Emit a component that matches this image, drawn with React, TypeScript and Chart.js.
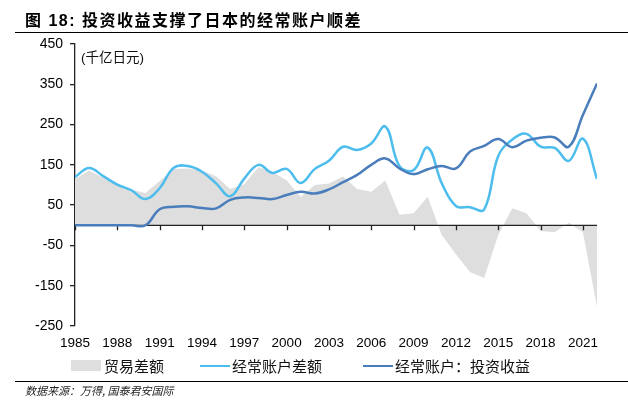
import React, { useEffect, useRef } from "react";
import { Chart, registerables } from "chart.js";

Chart.register(...registerables);

const years = [
  1985, 1986, 1987, 1988, 1989, 1990, 1991, 1992, 1993, 1994,
  1995, 1996, 1997, 1998, 1999, 2000, 2001, 2002, 2003, 2004,
  2005, 2006, 2007, 2008, 2009, 2010, 2011, 2012, 2013, 2014,
  2015, 2016, 2017, 2018, 2019, 2020, 2021, 2022,
];

const tradeBalance = [
  115, 136, 118, 100, 88, 80, 110, 140, 141, 136,
  122, 90, 102, 144, 132, 112, 70, 100, 104, 121,
  90, 83, 111, 26, 30, 71, -25, -72, -116, -131,
  -24, 42, 30, -14, -17, 6, -17, -202,
];

const currentAccount = [
  120, 142, 122, 101, 87, 65, 92, 143, 147, 133,
  104, 72, 116, 150, 130, 140, 105, 140, 160, 195,
  187, 203, 245, 147, 137, 193, 104, 48, 45, 39,
  172, 213, 227, 195, 192, 160, 215, 115,
];

const investmentIncome = [
  0, 0, 0, 0, 0, 0, 40, 46, 47, 43,
  42, 63, 69, 68, 65, 75, 83, 79, 89, 107,
  125, 150, 166, 141, 127, 139, 147, 141, 183, 197,
  214, 194, 210, 217, 218, 195, 274, 352,
];

const xTickYears = [1985, 1988, 1991, 1994, 1997, 2000, 2003, 2006, 2009, 2012, 2015, 2018, 2021];
const yTickValues = [-250, -150, -50, 50, 150, 250, 350, 450];

const seriesNames = ["贸易差额", "经常账户差额", "经常账户：投资收益"];
const seriesColors = ["#dedede", "#4dbdee", "#4a7dbb"];

const titleText = "图 18:  投资收益支撑了日本的经常账户顺差";
const unitText = "(千亿日元)";
const sourceText = "数据来源：万得, 国泰君安国际";

const AXIS_COLOR = "#222";

const zeroAxisPlugin = {
  id: "zeroAxis",
  afterDatasetDraw(chart: any, args: any) {
    if (args.index !== 0) return;
    const { ctx, chartArea, scales } = chart;
    const x = scales.x;
    const y = scales.y;
    const y0 = y.getPixelForValue(0);
    ctx.save();
    ctx.strokeStyle = AXIS_COLOR;
    ctx.lineWidth = 1.3;
    ctx.beginPath();
    ctx.moveTo(chartArea.left, y0);
    ctx.lineTo(chartArea.right, y0);
    xTickYears.forEach((yr) => {
      const px = Math.round(x.getPixelForValue(yr)) + 0.5;
      ctx.moveTo(px, y0);
      ctx.lineTo(px, y0 + 5);
    });
    ctx.stroke();
    ctx.restore();
  },
};

export default function App() {
  const canvasRef = useRef<HTMLCanvasElement | null>(null);

  useEffect(() => {
    if (!canvasRef.current) return;
    const chart = new Chart(canvasRef.current, {
      type: "line",
      data: {
        labels: years,
        datasets: [
          {
            label: seriesNames[0],
            data: tradeBalance,
            backgroundColor: seriesColors[0],
            borderColor: seriesColors[0],
            borderWidth: 0,
            fill: "origin",
            tension: 0,
            pointRadius: 0,
            order: 3,
          },
          {
            label: seriesNames[1],
            data: currentAccount,
            borderColor: seriesColors[1],
            backgroundColor: seriesColors[1],
            borderWidth: 2.5,
            fill: false,
            tension: 0.4,
            pointRadius: 0,
            order: 2,
          },
          {
            label: seriesNames[2],
            data: investmentIncome,
            borderColor: seriesColors[2],
            backgroundColor: seriesColors[2],
            borderWidth: 2.5,
            fill: false,
            tension: 0.4,
            pointRadius: 0,
            order: 1,
          },
        ],
      },
      options: {
        animation: false,
        responsive: false,
        maintainAspectRatio: false,
        layout: { padding: { left: 0, top: 44, right: 31, bottom: 57 } },
        plugins: {
          legend: { display: false },
          tooltip: { enabled: false },
        },
        scales: {
          x: {
            type: "linear",
            min: 1985,
            max: 2022,
            afterBuildTicks: (scale: any) => {
              scale.ticks = xTickYears.map((v) => ({ value: v }));
            },
            afterFit: (scale: any) => {
              scale.height = 30;
            },
            grid: { display: false, drawTicks: false },
            border: { display: false },
            ticks: {
              padding: 9,
              color: "#000",
              font: { family: "'Liberation Sans', Arial, sans-serif", size: 13.5 },
              maxRotation: 0,
              autoSkip: false,
              callback: (v: any) => String(v),
            },
          },
          y: {
            type: "linear",
            min: -250,
            max: 450,
            afterBuildTicks: (scale: any) => {
              scale.ticks = yTickValues.map((v) => ({ value: v }));
            },
            afterFit: (scale: any) => {
              scale.width = 75;
            },
            grid: {
              display: true,
              drawOnChartArea: false,
              drawTicks: true,
              tickLength: 5,
              color: AXIS_COLOR,
              lineWidth: 1.3,
            },
            border: { display: true, color: AXIS_COLOR, width: 1.3 },
            ticks: {
              padding: 7,
              color: "#000",
              font: { family: "'Liberation Sans', Arial, sans-serif", size: 14 },
              callback: (v: any) => String(v),
            },
          },
        },
      },
      plugins: [zeroAxisPlugin],
    });
    return () => chart.destroy();
  }, []);

  const cjk = "'Liberation Sans', 'Noto Sans CJK SC', sans-serif";
  const legendText: React.CSSProperties = {
    position: "absolute",
    top: 356,
    fontFamily: "'Noto Sans CJK SC', sans-serif",
    fontSize: 15,
    lineHeight: "20px",
    color: "#111",
    whiteSpace: "nowrap",
  };

  return (
    <div style={{ position: "absolute", left: 0, top: 0, width: 628, height: 413, background: "#fff", overflow: "hidden" }}>
      <canvas ref={canvasRef} width={628} height={413} style={{ position: "absolute", left: 0, top: 0, width: 628, height: 413 }} />
      <div style={{ position: "absolute", left: 25, top: 10, fontFamily: cjk, fontWeight: "bold", fontSize: 16, letterSpacing: 1.5, lineHeight: "22px", color: "#000", whiteSpace: "nowrap" }}>
        {titleText}
      </div>
      <div style={{ position: "absolute", left: 15, top: 32, width: 613, borderTop: "1px solid #000" }} />
      <div style={{ position: "absolute", left: 81, top: 49, fontFamily: cjk, fontSize: 13.5, lineHeight: "18px", color: "#111", whiteSpace: "nowrap" }}>
        {unitText}
      </div>

      <div style={{ position: "absolute", left: 71, top: 360, width: 30, height: 11, background: seriesColors[0] }} />
      <div style={{ ...legendText, left: 104 }}>{seriesNames[0]}</div>
      <div style={{ position: "absolute", left: 200, top: 364.5, width: 30, height: 2.5, background: seriesColors[1] }} />
      <div style={{ ...legendText, left: 232 }}>{seriesNames[1]}</div>
      <div style={{ position: "absolute", left: 363, top: 364.5, width: 30, height: 2.5, background: seriesColors[2] }} />
      <div style={{ ...legendText, left: 395 }}>{seriesNames[2]}</div>

      <div style={{ position: "absolute", left: 15, top: 381, width: 613, borderTop: "1px solid #000" }} />
      <div style={{ position: "absolute", left: 25, top: 383, fontFamily: "'Noto Sans CJK SC', sans-serif", fontStyle: "italic", fontSize: 11, lineHeight: "14px", color: "#222", whiteSpace: "nowrap" }}>
        {sourceText}
      </div>
    </div>
  );
}
